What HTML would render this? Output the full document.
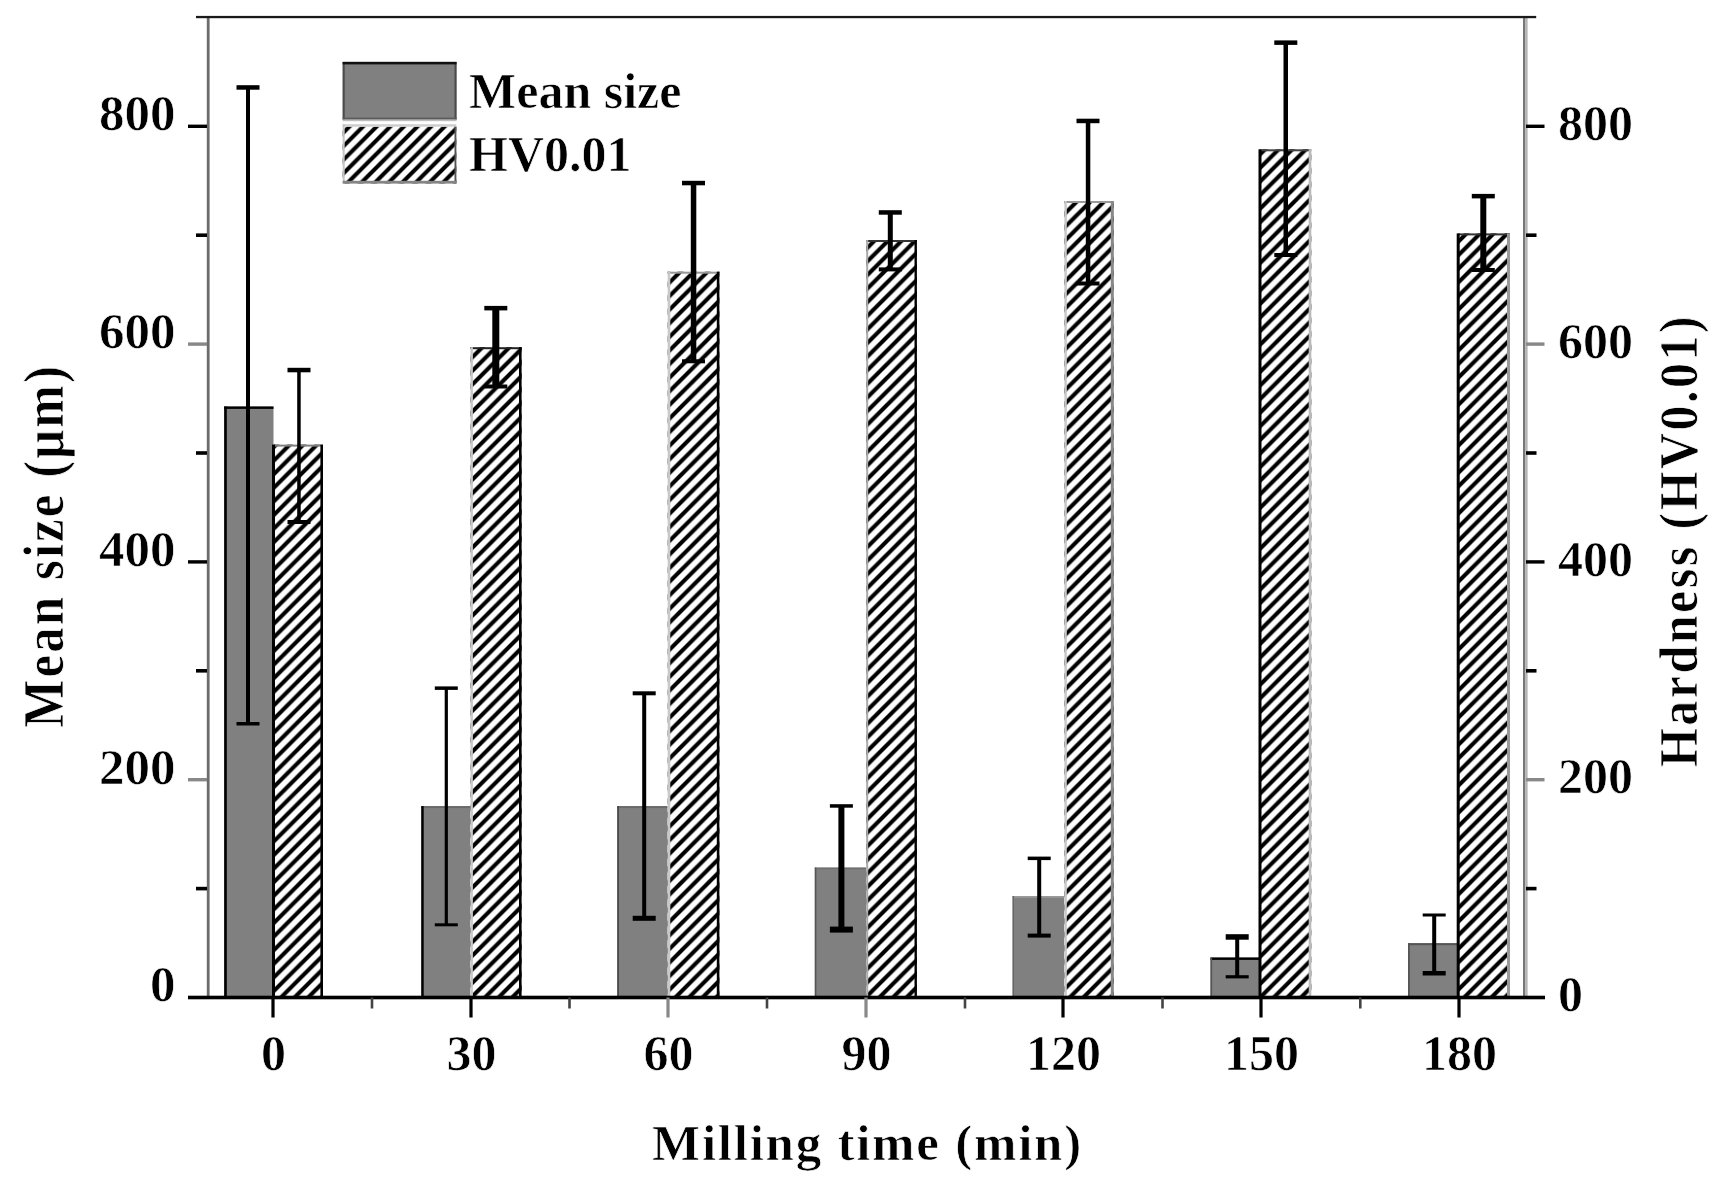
<!DOCTYPE html>
<html lang="en"><head><meta charset="utf-8"><title>Mean size and hardness vs milling time</title>
<style>html,body{margin:0;padding:0;background:#fff;}body{width:1732px;height:1190px;overflow:hidden;}svg{display:block;filter:blur(0.6px);}text{font-family:"Liberation Serif", serif;font-weight:bold;fill:#000;stroke:#fff;stroke-width:0.7px;}</style>
</head><body>
<svg width="1732" height="1190" viewBox="0 0 1732 1190">
<defs><pattern id="hatch" patternUnits="userSpaceOnUse" width="13.6" height="13.6">
<rect width="13.6" height="13.6" fill="#fff"/>
<path d="M-3.4,3.4 L3.4,-3.4 M-1,14.6 L14.6,-1 M10.2,17 L17,10.2" stroke="#000" stroke-width="4.1"/>
</pattern></defs>
<rect width="1732" height="1190" fill="#fff"/>
<g id="axes">
<rect x="206.8" y="17" width="2.8" height="980" fill="#6c6c6c"/>
<rect x="1523" y="17" width="2.4" height="980" fill="#777"/><rect x="1525.4" y="17" width="2.2" height="980" fill="#b4b4b4"/>
<rect x="196" y="15.9" width="1340.2" height="2.3" fill="#1a1a1a"/>
</g>
<g id="bars">
<rect x="224.2" y="406.5" width="49.3" height="591.0" fill="#808080"/>
<rect x="224.2" y="406.5" width="49.3" height="2.4" fill="#000"/>
<rect x="224.2" y="406.5" width="2.6" height="591.0" fill="#000"/>
<rect x="421.3" y="806.1" width="49.2" height="191.4" fill="#808080"/>
<rect x="421.3" y="806.1" width="49.2" height="2.0" fill="#6a6a6a"/>
<rect x="421.3" y="806.1" width="2.4" height="191.4" fill="#000"/>
<rect x="617.3" y="806.1" width="50.4" height="191.4" fill="#808080"/>
<rect x="617.3" y="806.1" width="50.4" height="2.0" fill="#6a6a6a"/>
<rect x="617.3" y="806.1" width="1.6" height="191.4" fill="#444"/>
<rect x="814.8" y="867.6" width="51.4" height="129.9" fill="#808080"/>
<rect x="814.8" y="867.6" width="51.4" height="1.6" fill="#707070"/>
<rect x="814.8" y="867.6" width="1.6" height="129.9" fill="#555"/>
<rect x="1012.6" y="896.0" width="51.8" height="101.5" fill="#808080"/>
<rect x="1012.6" y="896.0" width="51.8" height="1.8" fill="#999"/>
<rect x="1012.6" y="896.0" width="1.4" height="101.5" fill="#666"/>
<rect x="1210.5" y="957.5" width="49.5" height="40.0" fill="#808080"/>
<rect x="1210.5" y="957.5" width="49.5" height="2.4" fill="#000"/>
<rect x="1210.5" y="957.5" width="1.6" height="40.0" fill="#555"/>
<rect x="1408.0" y="943.2" width="50.2" height="54.3" fill="#808080"/>
<rect x="1408.0" y="943.2" width="50.2" height="2.0" fill="#555"/>
<rect x="1408.0" y="943.2" width="1.8" height="54.3" fill="#555"/>
<rect x="273.5" y="444.6" width="49.5" height="552.9" fill="url(#hatch)"/>
<rect x="273.5" y="444.6" width="49.5" height="2.0" fill="#808080"/>
<rect x="272.0" y="444.6" width="3.0" height="552.9" fill="#000"/>
<rect x="320.4" y="444.6" width="2.6" height="552.9" fill="#000"/>
<rect x="470.5" y="347.2" width="51.1" height="650.3" fill="url(#hatch)"/>
<rect x="470.5" y="347.2" width="51.1" height="2.0" fill="#222"/>
<rect x="470.5" y="347.2" width="2.4" height="650.3" fill="#c8c8c8"/>
<rect x="519.0" y="347.2" width="2.6" height="650.3" fill="#000"/>
<rect x="667.7" y="271.7" width="51.7" height="725.8" fill="url(#hatch)"/>
<rect x="667.7" y="271.7" width="51.7" height="2.0" fill="#999"/>
<rect x="667.7" y="271.7" width="2.6" height="725.8" fill="#c8c8c8"/>
<rect x="716.8" y="271.7" width="2.6" height="725.8" fill="#000"/>
<rect x="866.2" y="240.0" width="50.7" height="757.5" fill="url(#hatch)"/>
<rect x="866.2" y="240.0" width="50.7" height="2.0" fill="#333"/>
<rect x="866.2" y="240.0" width="2.0" height="757.5" fill="#aaa"/>
<rect x="914.5" y="240.0" width="2.4" height="757.5" fill="#000"/>
<rect x="1064.4" y="201.0" width="49.4" height="796.5" fill="url(#hatch)"/>
<rect x="1064.4" y="201.0" width="49.4" height="2.0" fill="#999"/>
<rect x="1064.4" y="201.0" width="2.4" height="796.5" fill="#c8c8c8"/>
<rect x="1110.8" y="201.0" width="3.0" height="796.5" fill="#888"/>
<rect x="1260.0" y="149.3" width="51.3" height="848.2" fill="url(#hatch)"/>
<rect x="1260.0" y="149.3" width="51.3" height="2.0" fill="#444"/>
<rect x="1258.5" y="149.3" width="3.0" height="848.2" fill="#000"/>
<rect x="1308.7" y="149.3" width="2.6" height="848.2" fill="#bbb"/>
<rect x="1458.2" y="233.4" width="51.8" height="764.1" fill="url(#hatch)"/>
<rect x="1458.2" y="233.4" width="51.8" height="2.0" fill="#333"/>
<rect x="1456.7" y="233.4" width="3.0" height="764.1" fill="#000"/>
<rect x="1507.0" y="233.4" width="3.0" height="764.1" fill="#999"/>
</g>
<g id="errors" fill="#000">
<rect x="246.0" y="87.5" width="4.0" height="636.3"/>
<rect x="236.5" y="85.2" width="23" height="4.5"/>
<rect x="236.5" y="722.0" width="23" height="3.5"/>
<rect x="444.7" y="688.1" width="3.2" height="236.7"/>
<rect x="434.8" y="686.4" width="23" height="3.5"/>
<rect x="434.8" y="923.3" width="23" height="3.0"/>
<rect x="642.2" y="693.3" width="4.0" height="225.0"/>
<rect x="632.7" y="691.3" width="23" height="4.0"/>
<rect x="632.7" y="915.8" width="23" height="5.0"/>
<rect x="838.4" y="806.0" width="6.0" height="123.6"/>
<rect x="829.9" y="804.2" width="23" height="3.5"/>
<rect x="829.9" y="926.6" width="23" height="6.0"/>
<rect x="1037.2" y="858.4" width="4.0" height="77.2"/>
<rect x="1027.7" y="856.6" width="23" height="3.5"/>
<rect x="1027.7" y="933.6" width="23" height="4.0"/>
<rect x="1235.2" y="937.0" width="4.0" height="39.8"/>
<rect x="1225.7" y="934.2" width="23" height="5.5"/>
<rect x="1225.7" y="975.2" width="23" height="3.2"/>
<rect x="1432.2" y="915.0" width="4.0" height="58.3"/>
<rect x="1422.7" y="913.5" width="23" height="3.0"/>
<rect x="1422.7" y="971.0" width="23" height="4.5"/>
<rect x="297.2" y="370.0" width="3.5" height="152.0"/>
<rect x="287.5" y="367.8" width="23" height="4.5"/>
<rect x="287.5" y="520.0" width="23" height="4.0"/>
<rect x="492.3" y="308.2" width="7.0" height="78.3"/>
<rect x="484.3" y="305.9" width="23" height="4.5"/>
<rect x="484.3" y="384.5" width="23" height="4.0"/>
<rect x="690.8" y="183.0" width="5.5" height="178.3"/>
<rect x="682.0" y="180.8" width="23" height="4.5"/>
<rect x="682.0" y="359.3" width="23" height="4.0"/>
<rect x="887.8" y="212.4" width="5.0" height="57.0"/>
<rect x="878.8" y="210.2" width="23" height="4.5"/>
<rect x="878.8" y="267.4" width="23" height="4.0"/>
<rect x="1085.8" y="120.9" width="4.5" height="162.6"/>
<rect x="1076.5" y="118.7" width="23" height="4.5"/>
<rect x="1076.5" y="281.5" width="23" height="4.0"/>
<rect x="1283.5" y="42.6" width="4.5" height="212.4"/>
<rect x="1274.3" y="40.4" width="23" height="4.5"/>
<rect x="1274.3" y="253.0" width="23" height="4.0"/>
<rect x="1480.3" y="196.2" width="6.0" height="73.8"/>
<rect x="1471.8" y="193.9" width="23" height="4.5"/>
<rect x="1471.8" y="268.0" width="23" height="4.0"/>
</g>
<g id="ticks">
<rect x="188" y="995.7" width="1357" height="3.6" fill="#000"/>
<rect x="188" y="778.0" width="19" height="3.4" fill="#888"/>
<rect x="1526" y="778.0" width="18.5" height="3.4" fill="#888"/>
<rect x="188" y="560.2" width="19" height="3.4" fill="#000"/>
<rect x="1526" y="560.2" width="18.5" height="3.4" fill="#000"/>
<rect x="188" y="342.4" width="19" height="3.4" fill="#888"/>
<rect x="1526" y="342.4" width="18.5" height="3.4" fill="#888"/>
<rect x="188" y="124.6" width="19" height="3.4" fill="#000"/>
<rect x="1526" y="124.6" width="18.5" height="3.4" fill="#000"/>
<rect x="196" y="886.8" width="11" height="3.6" fill="#000"/>
<rect x="1526" y="886.8" width="10.5" height="3.6" fill="#000"/>
<rect x="196" y="669.0" width="11" height="3.6" fill="#000"/>
<rect x="1526" y="669.0" width="10.5" height="3.6" fill="#000"/>
<rect x="196" y="451.2" width="11" height="3.6" fill="#000"/>
<rect x="1526" y="451.2" width="10.5" height="3.6" fill="#000"/>
<rect x="196" y="233.4" width="11" height="3.6" fill="#000"/>
<rect x="1526" y="233.4" width="10.5" height="3.6" fill="#000"/>
<rect x="271.4" y="997.5" width="3.2" height="20" fill="#000"/>
<rect x="469.4" y="997.5" width="3.2" height="20" fill="#000"/>
<rect x="666.4" y="997.5" width="3.2" height="20" fill="#888"/>
<rect x="864.4" y="997.5" width="3.2" height="20" fill="#888"/>
<rect x="1061.4" y="997.5" width="3.2" height="20" fill="#000"/>
<rect x="1259.4" y="997.5" width="3.2" height="20" fill="#000"/>
<rect x="1457.4" y="997.5" width="3.2" height="20" fill="#000"/>
<rect x="370.7" y="997.5" width="2.6" height="11" fill="#444"/>
<rect x="568.2" y="997.5" width="2.6" height="11" fill="#444"/>
<rect x="765.7" y="997.5" width="2.6" height="11" fill="#444"/>
<rect x="963.7" y="997.5" width="2.6" height="11" fill="#444"/>
<rect x="1161.2" y="997.5" width="2.6" height="11" fill="#444"/>
<rect x="1359.0" y="997.5" width="2.6" height="11" fill="#444"/>
</g>
<g id="labels" font-size="50">
<text x="175.5" y="1001.3" text-anchor="end" font-size="51">0</text>
<text x="1558" y="1011.1">0</text>
<text x="175.5" y="783.5" text-anchor="end" font-size="51">200</text>
<text x="1558" y="793.3">200</text>
<text x="175.5" y="565.7" text-anchor="end" font-size="51">400</text>
<text x="1558" y="575.5">400</text>
<text x="175.5" y="347.9" text-anchor="end" font-size="51">600</text>
<text x="1558" y="357.7">600</text>
<text x="175.5" y="130.1" text-anchor="end" font-size="51">800</text>
<text x="1558" y="139.9">800</text>
<text x="273.5" y="1069.5" text-anchor="middle">0</text>
<text x="471.5" y="1069.5" text-anchor="middle">30</text>
<text x="668.5" y="1069.5" text-anchor="middle">60</text>
<text x="866.5" y="1069.5" text-anchor="middle">90</text>
<text x="1063.5" y="1069.5" text-anchor="middle">120</text>
<text x="1261.5" y="1069.5" text-anchor="middle">150</text>
<text x="1459.5" y="1069.5" text-anchor="middle">180</text>
</g>
<g id="legend" font-size="50">
<rect x="342.7" y="62" width="113.8" height="57.5" fill="#808080"/>
<path d="M343.7,119.5 V63 H455.5 V119.5" fill="none" stroke="#4a4a4a" stroke-width="2"/>
<rect x="342.7" y="61.8" width="113.8" height="2.6" fill="#111"/>
<rect x="342.7" y="117.6" width="113.8" height="2" fill="#5a5a5a"/>
<rect x="342.7" y="119.6" width="113.8" height="1.6" fill="#bdbdbd"/>
<rect x="342.7" y="126.7" width="113.6" height="56.7" fill="url(#hatch)"/>
<rect x="342.7" y="124.2" width="113.6" height="2.5" fill="#cfcfcf"/>
<rect x="342.7" y="124.2" width="2" height="59.2" fill="#c4c4c4"/>
<rect x="454.5" y="126.7" width="1.9" height="56.7" fill="#555"/>
<rect x="342.7" y="180.8" width="113.6" height="2.8" fill="#858585"/>
<text x="469" y="107.5">Mean size</text>
<text x="469" y="171.3">HV0.01</text>
</g>
<g id="titles">
<text x="652" y="1160" font-size="51" letter-spacing="1.75">Milling time (min)</text>
<text transform="translate(63.3,727.7) rotate(-90) scale(1,1.10)" font-size="51" letter-spacing="2.06">Mean size (μm)</text>
<text transform="translate(1697.2,767) rotate(-90) scale(1,1.09)" font-size="50" letter-spacing="2.48">Hardness (HV0.01)</text>
</g>
</svg>
</body></html>
